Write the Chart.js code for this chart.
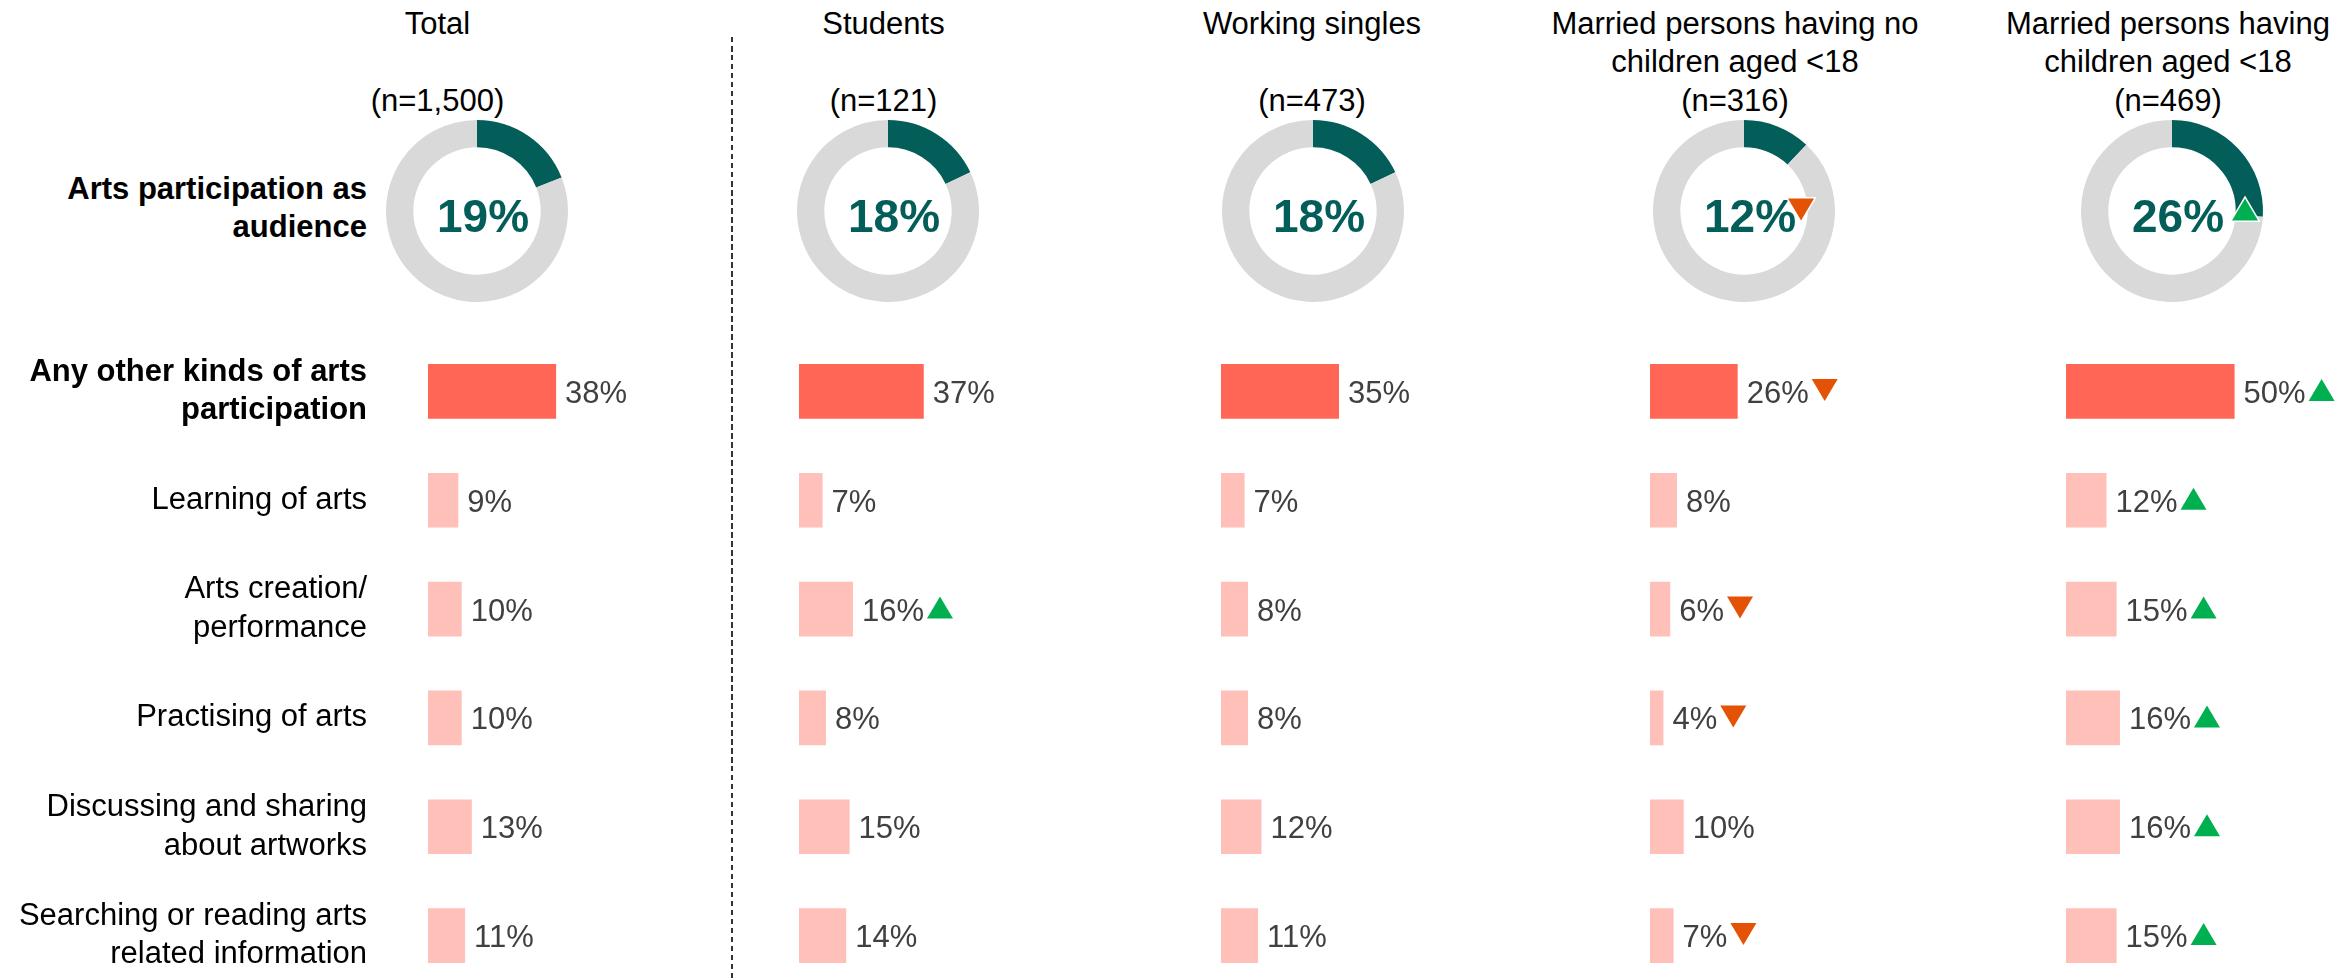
<!DOCTYPE html>
<html>
<head>
<meta charset="utf-8">
<script src="https://cdn.jsdelivr.net/npm/chart.js@4.4.1/dist/chart.umd.min.js"></script>
<style>
  html, body { margin: 0; padding: 0; background: #fff; overflow: hidden; }
  body { width: 2344px; height: 980px; position: relative; font-family: 'Liberation Sans', Arial, sans-serif; }
  .title { position: absolute; top: 5px; width: 560px; text-align: center; font-size: 31px; line-height: 38.35px; color: #000; white-space: pre; }
  #audLabel { position: absolute; left: 0; width: 367px; top: 170px; text-align: right; font-size: 31px; font-weight: bold; line-height: 38.35px; color: #000; }
  #divider { position: absolute; left: 731px; top: 37px; width: 1.5px; height: 943px;
             background: repeating-linear-gradient(to bottom, #333 0 5.5px, transparent 5.5px 9px); }
  canvas { position: absolute; }
</style>
</head>
<body>
<div id="divider"></div>
<div id="audLabel">Arts participation as<br>audience</div>
<script>
// --- data ---
const groupTitles = [
    ['Total', ''],
    ['Students', ''],
    ['Working singles', ''],
    ['Married persons having no', 'children aged <18'],
    ['Married persons having', 'children aged <18']
];
const sampleSizes = ['1,500', '121', '473', '316', '469'];

const audienceShare = [19, 18, 18, 12, 26];
const audienceFlags = [null, null, null, 'down', 'up'];

const activities = [
    ['Any other kinds of arts', 'participation'],
    'Learning of arts',
    ['Arts creation/', 'performance'],
    'Practising of arts',
    ['Discussing and sharing', 'about artworks'],
    ['Searching or reading arts', 'related information']
];

const totalValues      = [38, 9, 10, 10, 13, 11];
const studentValues    = [37, 7, 16, 8, 15, 14];
const singlesValues    = [35, 7, 8, 8, 12, 11];
const noKidsValues     = [26, 8, 6, 4, 10, 7];
const withKidsValues   = [50, 12, 15, 16, 16, 15];

const totalFlags    = [null, null, null, null, null, null];
const studentFlags  = [null, null, 'up', null, null, null];
const singlesFlags  = [null, null, null, null, null, null];
const noKidsFlags   = ['down', null, 'down', 'down', null, 'down'];
const withKidsFlags = ['up', 'up', 'up', 'up', 'up', 'up'];

const seriesValues = [totalValues, studentValues, singlesValues, noKidsValues, withKidsValues];
const seriesFlags = [totalFlags, studentFlags, singlesFlags, noKidsFlags, withKidsFlags];

// --- layout ---
const titleX = [437.5, 883.5, 1312, 1735, 2168];
const donutX = [476.5, 888, 1312.5, 1744, 2172];
const barX = [428, 799, 1221, 1650, 2066];
const DONUT_Y = 211;
const PX_PER_PCT = 3.37;
const X_MAX = 70;
const ROW_TOP = 337;
const ROW_H = 108.8;

const TEAL = '#035E5A';
const RING = '#D9D9D9';
const CORAL = '#FF6655';
const PINK = '#FFC0B9';
const GREEN = '#00B050';
const ORANGE = '#E35205';
const FONT = '"Liberation Sans", Arial, sans-serif';

Chart.defaults.font.family = FONT;

function addCanvas(left, top, w, h) {
    const c = document.createElement('canvas');
    c.width = w;
    c.height = h;
    c.style.left = left + 'px';
    c.style.top = top + 'px';
    document.body.appendChild(c);
    return c;
}

function drawTriangle(ctx, x, top, w, h, dir, outline) {
    ctx.beginPath();
    if (dir === 'up') {
        ctx.moveTo(x, top + h);
        ctx.lineTo(x + w / 2, top);
        ctx.lineTo(x + w, top + h);
    } else {
        ctx.moveTo(x, top);
        ctx.lineTo(x + w, top);
        ctx.lineTo(x + w / 2, top + h);
    }
    ctx.closePath();
    if (outline) {
        ctx.lineWidth = 3;
        ctx.strokeStyle = '#fff';
        ctx.stroke();
    }
    ctx.fillStyle = dir === 'up' ? GREEN : ORANGE;
    ctx.fill();
}

// titles
groupTitles.forEach((lines, g) => {
    const d = document.createElement('div');
    d.className = 'title';
    d.style.left = (titleX[g] - 280) + 'px';
    d.textContent = lines.join('\n') + '\n(n=' + sampleSizes[g] + ')';
    document.body.appendChild(d);
});

// donut centre text + marker
const centerText = {
    id: 'centerText',
    afterDraw(chart, args, opts) {
        const ctx = chart.ctx;
        const arc = chart.getDatasetMeta(0).data[0];
        const label = audienceShare[opts.group] + '%';
        const cx = arc.x + 6;
        ctx.save();
        ctx.font = 'bold 46px ' + FONT;
        ctx.fillStyle = TEAL;
        ctx.textAlign = 'center';
        ctx.textBaseline = 'alphabetic';
        ctx.fillText(label, cx, arc.y + 21);
        const flag = audienceFlags[opts.group];
        if (flag) {
            const end = cx + ctx.measureText(label).width / 2;
            const x = flag === 'up' ? end + 8 : end - 8;
            drawTriangle(ctx, x, arc.y - 12.5, 26, 22, flag, true);
        }
        ctx.restore();
    }
};

audienceShare.forEach((v, g) => {
    const cv = addCanvas(donutX[g] - 100, DONUT_Y - 100, 200, 200);
    new Chart(cv, {
        type: 'doughnut',
        data: {
            labels: ['Yes', 'No'],
            datasets: [{
                data: [v, 100 - v],
                backgroundColor: [TEAL, RING],
                borderWidth: 0,
                hoverOffset: 0
            }]
        },
        options: {
            responsive: false,
            animation: false,
            events: [],
            radius: 91,
            cutout: '70%',
            plugins: {
                legend: { display: false },
                tooltip: { enabled: false },
                centerText: { group: g }
            }
        },
        plugins: [centerText]
    });
});

// bar value labels + markers
const barLabels = {
    id: 'barLabels',
    afterDatasetsDraw(chart, args, opts) {
        const ctx = chart.ctx;
        const meta = chart.getDatasetMeta(0);
        const flags = seriesFlags[opts.group];
        ctx.save();
        ctx.font = '31px ' + FONT;
        ctx.textAlign = 'left';
        ctx.textBaseline = 'alphabetic';
        meta.data.forEach((bar, i) => {
            const txt = chart.data.datasets[0].data[i] + '%';
            const x = bar.x + 9;
            const base = bar.y + 11.5;
            ctx.fillStyle = '#404040';
            ctx.fillText(txt, x, base);
            if (flags[i]) {
                drawTriangle(ctx, x + ctx.measureText(txt).width + 3, base - 24, 26, 22, flags[i], false);
            }
        });
        ctx.restore();
    }
};

seriesValues.forEach((vals, g) => {
    const withAxis = g === 0;
    const axisW = withAxis ? barX[0] : 0;
    const left = withAxis ? 0 : barX[g];
    const plotW = Math.round(X_MAX * PX_PER_PCT);
    const padRight = 110;
    const cv = addCanvas(left, ROW_TOP, axisW + plotW + padRight, Math.round(ROW_H * activities.length));
    new Chart(cv, {
        type: 'bar',
        data: {
            labels: activities,
            datasets: [{
                data: vals,
                backgroundColor: vals.map((v, i) => i === 0 ? CORAL : PINK),
                borderWidth: 0,
                barPercentage: 0.503,
                categoryPercentage: 1
            }]
        },
        options: {
            indexAxis: 'y',
            responsive: false,
            animation: false,
            events: [],
            layout: { autoPadding: false, padding: { left: 0, right: padRight, top: 0, bottom: 0 } },
            scales: {
                x: { display: false, min: 0, max: X_MAX },
                y: {
                    display: withAxis,
                    grid: { display: false, drawTicks: false },
                    border: { display: false },
                    afterFit(axis) {
                        axis.width = axisW;
                        axis.paddingTop = 0;
                        axis.paddingBottom = 0;
                    },
                    ticks: {
                        padding: barX[0] - 367,
                        color: '#000',
                        font: (c) => ({ size: 31, weight: c.index === 0 ? 'bold' : 'normal', lineHeight: 1.24 })
                    }
                }
            },
            plugins: {
                legend: { display: false },
                tooltip: { enabled: false },
                barLabels: { group: g }
            }
        },
        plugins: [barLabels]
    });
});
</script>
</body>
</html>
